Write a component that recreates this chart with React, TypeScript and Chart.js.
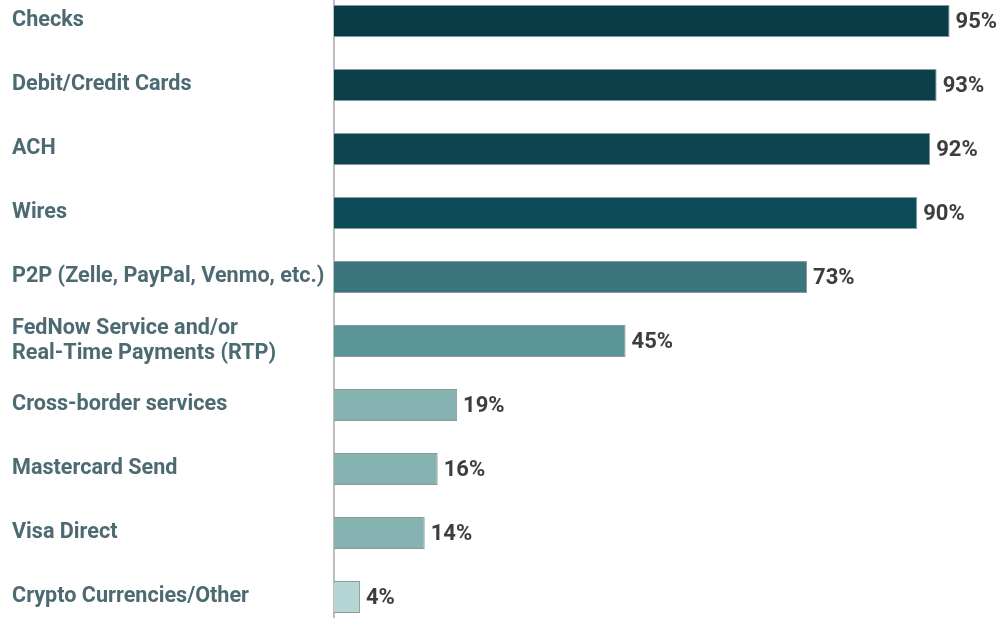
import React, { useEffect, useRef } from "react";
import { Chart, registerables } from "chart.js";

Chart.register(...registerables);

const categories: (string | string[])[] = [
  "Checks",
  "Debit/Credit Cards",
  "ACH",
  "Wires",
  "P2P (Zelle, PayPal, Venmo, etc.)",
  ["FedNow Service and/or", "Real-Time Payments (RTP)"],
  "Cross-border services",
  "Mastercard Send",
  "Visa Direct",
  "Crypto Currencies/Other",
];
const values = [95, 93, 92, 90, 73, 45, 19, 16, 14, 4];
const barColors = [
  "#0a3c47",
  "#0b3f4a",
  "#0c4450",
  "#0d4b58",
  "#3a747d",
  "#5a9598",
  "#86b2b1",
  "#86b2b1",
  "#86b2b1",
  "#b6d6d6",
];

const valueLabelPlugin = {
  id: "valueLabels",
  afterDatasetsDraw(chart: any) {
    const ctx = chart.ctx;
    const meta = chart.getDatasetMeta(0);
    ctx.save();
    ctx.font = "bold 22px Roboto";
    ctx.fillStyle = "#3d3d3d";
    ctx.textAlign = "left";
    ctx.textBaseline = "middle";
    meta.data.forEach((bar: any, i: number) => {
      ctx.fillText(values[i] + "%", bar.x + 6, bar.y + 1);
    });
    ctx.restore();
  },
};

export default function App() {
  const ref = useRef<HTMLCanvasElement | null>(null);
  useEffect(() => {
    if (!ref.current) return;
    const chart = new Chart(ref.current, {
      type: "bar",
      data: {
        labels: categories,
        datasets: [
          {
            data: values,
            backgroundColor: barColors,
            borderColor: "#8a9a9c",
            borderWidth: 1,
            barPercentage: 0.5,
            categoryPercentage: 1,
          },
        ],
      },
      options: {
        indexAxis: "y",
        animation: false,
        responsive: false,
        maintainAspectRatio: false,
        layout: { padding: { left: 12, right: 18, top: 0, bottom: 0 } },
        plugins: {
          legend: { display: false },
          tooltip: { enabled: false },
        },
        scales: {
          x: { display: false, min: 0, max: 100 },
          y: {
            grid: { display: false },
            border: { display: true, color: "#bdbdbd", width: 2 },
            afterFit(scale: any) {
              scale.width = 322;
              scale.paddingTop = 0;
              scale.paddingBottom = 0;
            },
            ticks: {
              crossAlign: "far",
              padding: 0,
              color: "#4d6a72",
              font: { family: "Roboto", weight: "bold", size: 21.6, lineHeight: 1.12 },
              autoSkip: false,
            },
          },
        },
      },
      plugins: [valueLabelPlugin],
    });
    return () => chart.destroy();
  }, []);
  return (
    <div style={{ position: "absolute", left: 0, top: -11, width: 1000, height: 640 }}>
      <canvas ref={ref} width={1000} height={640} style={{ width: 1000, height: 640 }} />
    </div>
  );
}
